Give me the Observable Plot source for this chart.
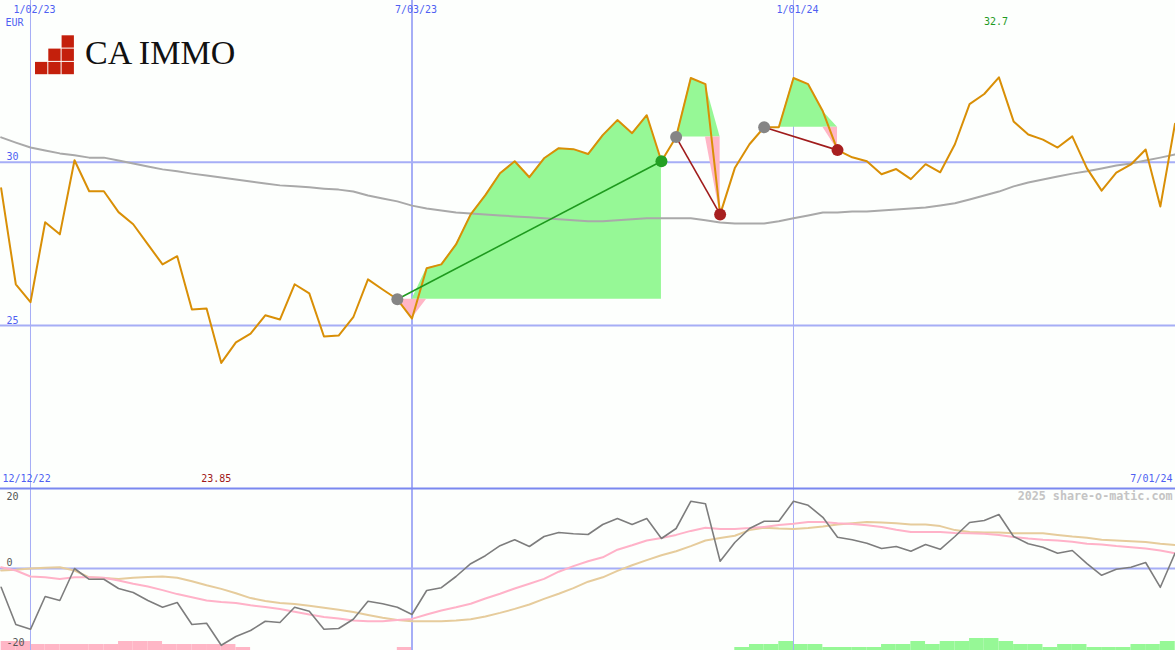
<!DOCTYPE html>
<html><head><meta charset="utf-8">
<script src="https://cdn.jsdelivr.net/npm/d3@7"></script>
<script src="https://cdn.jsdelivr.net/npm/@observablehq/plot@0.6"></script>
<style>
html,body{margin:0;padding:0;background:#fdfffd;}
#wrap{position:relative;width:1175px;height:650px;overflow:hidden;background:#fdfffd;}
#wrap > svg{position:absolute;left:0;}
#wrap > #logoText{position:absolute;left:85px;top:33px;font-family:"Liberation Serif","Times New Roman",serif;font-size:34px;line-height:40px;color:#111;white-space:nowrap;}
</style></head>
<body><div id="wrap"></div>
<script>
// ---------- DATA ----------
const firstWeek = "2022-12-19";           // first weekly close
const lastWeek = "2024-07-01";            // last weekly close
const closes = [29.20,26.26,25.71,28.16,27.79,30.06,29.11,29.11,28.47,28.10,27.48,26.87,27.12,25.49,25.52,23.85,24.48,24.75,25.31,25.18,
  26.26,25.98,24.66,24.69,25.25,26.41,26.10,25.80,25.21,26.75,26.87,27.48,28.40,28.99,29.66,30.03,29.54,30.12,30.43,30.40,
  30.25,30.83,31.29,30.89,31.44,30.03,30.77,32.58,32.39,28.40,29.82,30.55,31.07,31.07,32.58,32.39,31.56,30.37,30.15,30.03,
  29.63,29.79,29.48,29.94,29.69,30.55,31.78,32.09,32.60,31.25,30.85,30.69,30.45,30.79,29.81,29.13,29.68,29.93,30.39,28.64,31.18];
const longAverage = [30.76,30.60,30.45,30.36,30.27,30.21,30.14,30.14,30.05,29.96,29.87,29.78,29.72,29.65,29.59,29.53,29.47,29.41,29.35,29.29,
  29.26,29.23,29.19,29.16,29.10,28.98,28.89,28.80,28.67,28.58,28.52,28.46,28.43,28.40,28.37,28.34,28.31,28.28,28.25,28.22,
  28.19,28.19,28.22,28.25,28.28,28.28,28.28,28.28,28.22,28.15,28.12,28.12,28.12,28.19,28.28,28.37,28.46,28.46,28.49,28.49,
  28.52,28.55,28.58,28.61,28.67,28.74,28.86,28.98,29.10,29.26,29.38,29.47,29.56,29.65,29.72,29.81,29.90,29.96,30.05,30.14,30.24];
const momentum = [-4.7,-14,-15.2,-7,-8,0,-2.7,-2.7,-5,-6,-8,-9.7,-8.5,-14,-13.7,-19.2,-17,-15.5,-13.2,-13.5,
  -9.7,-10.7,-15.2,-15,-12.7,-8.2,-8.8,-9.7,-11.5,-5.5,-4.8,-2,1.2,3.2,5.7,7.2,5.5,8,9,8.7,
  8.5,11,12.5,11,12.5,7.5,10,16.8,16.2,1.8,6.5,10,11.8,11.8,16.8,15.8,12.8,7.8,7.2,6.3,
  5,5.5,4.3,6,4.8,8,11.5,12,13.5,8,6.2,5.3,3.8,4.5,1.2,-1.7,-0.2,0.3,1.5,-4.7,3.8];
const momentumFast = [0.3,-0.5,-2.0,-2.2,-2.6,-2.2,-2.2,-2.3,-3.0,-3.8,-4.5,-5.4,-6.4,-7.2,-8.0,-8.4,-8.6,-9.2,-9.6,-10.1,
  -10.8,-11.5,-12.1,-12.5,-13.0,-13.2,-13.2,-12.9,-12.6,-11.5,-10.5,-9.7,-8.8,-7.5,-6.3,-5.0,-3.8,-2.6,-0.8,0.6,
  1.8,2.8,4.7,5.8,7.0,7.6,8.4,9.4,10.2,9.9,9.9,10.1,10.4,10.9,11.2,11.6,11.6,11.3,11.1,10.8,
  10.4,9.7,9.1,9.1,9.1,8.9,8.8,8.7,8.4,7.9,7.5,7.2,7.0,6.7,6.2,6.0,5.6,5.3,5.0,4.5,3.8];
const momentumSlow = [-0.5,-0.3,0,0.2,0.3,-0.5,-2.2,-2.4,-2.6,-2.3,-2.1,-2.0,-2.3,-3.2,-4.2,-5.1,-6.2,-7.4,-8.1,-8.6,
  -8.9,-9.3,-9.8,-10.3,-10.9,-11.6,-12.3,-12.9,-13.2,-13.2,-13.2,-13.0,-12.7,-12.0,-11.1,-10.1,-9.0,-7.6,-6.3,-4.9,
  -3.3,-2.2,-0.6,0.8,2.1,3.3,4.3,5.6,7.0,7.6,8.2,9.6,10.2,10.0,9.9,10.1,10.5,11.0,11.3,11.6,
  11.5,11.3,11.0,11.0,10.6,9.6,9.1,9.0,9.0,8.8,8.8,8.8,8.4,8.0,7.7,7.2,7.0,6.8,6.6,6.2,5.9];
const trendLevel = [-3,-3,-2,-2,-2,-2,-2,-2,-3,-3,-3,-2,-2,-2,-2,-2,-1,0,0,0,
  0,0,0,0,0,0,0,-1,0,0,0,0,0,0,0,0,0,0,0,0,
  0,0,0,0,0,0,0,0,0,0,1,2,2,3,2,2,1,1,1,1,
  2,2,3,2,3,3,4,4,3,2,2,1,2,2,1,1,1,2,2,3,3];
// trades: entry / exit week index
const tradeEntry = [27, 46, 52];
const tradeExit = [45, 49, 57];
const priceTicks = [25, 30];
const momentumTicks = [20, 0, -20];
const dateTicks = ["2023-01-02", "2023-07-03", "2024-01-01"];
const dateTickLabels = ["1/02/23", "7/03/23", "1/01/24"];
const currencyLabel = "EUR";
const periodLabels = ["12/12/22", "7/01/24"];
const highLabel = "32.7", highWeek = 68;
const lowLabel = "23.85", lowWeek = 15;
const brand = "CA IMMO";
const watermark = "2025 share-o-matic.com";

// ---------- BUILD ----------
const t0 = new Date(firstWeek + "T00:00:00Z");
const rows = closes.map((c, i) => ({
  date: d3.utcDay.offset(t0, 7 * i), next: d3.utcDay.offset(t0, 7 * (i + 1)),
  close: c, avg: longAverage[i], mom: momentum[i], fast: momentumFast[i], slow: momentumSlow[i], level: trendLevel[i]
}));
const ticks = dateTicks.map((d, i) => ({date: new Date(d + "T00:00:00Z"), label: dateTickLabels[i]}));
const trades = tradeEntry.map((e, k) => {
  const x = tradeExit[k];
  return {a: rows[e], b: rows[x], base: rows[e].close, win: rows[x].close > rows[e].close, seg: rows.slice(e, x + 1)};
});

const W = 1175, TOPH = 487, BOTH = 163;
const xScale = {type: "utc", domain: [t0, new Date(lastWeek + "T00:00:00Z")], range: [0.65, 1174.5]};
const BLUE = "#4f5ff2", GRID = "#a6aef6", FONT = "DejaVu Sans Mono, monospace";
const common = {width: W, marginLeft: 0, marginRight: 0, marginTop: 0, marginBottom: 0,
  style: {fontFamily: FONT, fontSize: "10px", background: "transparent"}};
const T = {lineAnchor: "middle"};

const fills = trades.flatMap(t => [
  Plot.areaY(t.seg, {x: "date", y1: () => t.base, y2: d => Math.max(d.close, t.base), fill: "#96f896", curve: "linear"}),
  Plot.areaY(t.seg, {x: "date", y1: () => t.base, y2: d => Math.min(d.close, t.base), fill: "#ffb6c6", curve: "linear"})
]);

const priceChart = Plot.plot({
  ...common, height: TOPH,
  x: {...xScale, axis: null},
  y: {domain: [25, 30], range: [324.9, 161.7], axis: null},
  marks: [
    Plot.ruleX(ticks.filter((d, i) => i !== 1), {x: "date", stroke: GRID, strokeWidth: 1}),
    Plot.ruleX(ticks.filter((d, i) => i === 1), {x: "date", stroke: GRID, strokeWidth: 2}),
    Plot.ruleY(priceTicks, {stroke: GRID, strokeWidth: 2}),
    ...fills,
    Plot.line(rows, {x: "date", y: "avg", stroke: "#a9a9a9", strokeWidth: 2}),
    Plot.line(rows, {x: "date", y: "close", stroke: "#d98f06", strokeWidth: 2}),
    Plot.link(trades, {x1: d => d.a.date, y1: d => d.a.close, x2: d => d.b.date, y2: d => d.b.close,
      stroke: d => d.win ? "#1e9a1e" : "#a01c1c", strokeWidth: 1.6}),
    Plot.dot(trades, {x: d => d.a.date, y: d => d.a.close, r: 6, fill: "#858585"}),
    Plot.dot(trades, {x: d => d.b.date, y: d => d.b.close, r: 6, fill: d => d.win ? "#23a023" : "#a82020"}),
    Plot.text(priceTicks, {...T, y: d => d, text: d => String(d), frameAnchor: "left", dx: 6, dy: -5, textAnchor: "start", fill: BLUE}),
    Plot.text([currencyLabel], {...T, text: d => d, frameAnchor: "top-left", dx: 5, dy: 22, textAnchor: "start", fill: BLUE}),
    Plot.text(ticks, {...T, x: "date", text: "label", frameAnchor: "top", dy: 9, dx: 4, fill: BLUE}),
    Plot.text([rows[highWeek]], {...T, x: "date", text: () => highLabel, frameAnchor: "top", dy: 21, dx: -3, fill: "#1f9a1f"}),
    Plot.text([rows[lowWeek]], {...T, x: "date", text: () => lowLabel, frameAnchor: "bottom", dy: -9, dx: -5, fill: "#a01818"}),
    Plot.text([periodLabels[0]], {...T, text: d => d, frameAnchor: "bottom-left", dx: 2, dy: -9, textAnchor: "start", fill: BLUE}),
    Plot.text([periodLabels[1]], {...T, text: d => d, frameAnchor: "bottom-right", dx: -3, dy: -9, textAnchor: "end", fill: BLUE})
  ]
});

const barChart = Plot.plot({
  ...common, height: BOTH,
  x: {...xScale, axis: null},
  y: {domain: [0, 4], range: [BOTH, BOTH - 12], axis: null},
  marks: [
    Plot.rectY(rows.filter(d => d.level !== 0), {x1: "date", x2: "next", y1: 0, y2: d => Math.abs(d.level),
      fill: d => d.level < 0 ? "#ffb6c6" : "#96f896"})
  ]
});

const momentumChart = Plot.plot({
  ...common, height: BOTH,
  x: {...xScale, axis: null},
  y: {domain: [-20, 20], range: [161, 1], axis: null},
  marks: [
    Plot.ruleX(ticks.filter((d, i) => i !== 1), {x: "date", stroke: GRID, strokeWidth: 1}),
    Plot.ruleX(ticks.filter((d, i) => i === 1), {x: "date", stroke: GRID, strokeWidth: 2}),
    Plot.ruleY([0], {stroke: GRID, strokeWidth: 2}),
    Plot.ruleY([20], {stroke: "#7a88f0", strokeWidth: 2}),
    Plot.line(rows, {x: "date", y: "slow", stroke: "#e6cc9c", strokeWidth: 2}),
    Plot.line(rows, {x: "date", y: "fast", stroke: "#ffb2c8", strokeWidth: 2}),
    Plot.line(rows, {x: "date", y: "mom", stroke: "#7d7d7d", strokeWidth: 1.6}),
    Plot.text(momentumTicks.filter(d => d === 20), {...T, y: d => d, text: d => String(d), frameAnchor: "left", dx: 6, dy: 8, textAnchor: "start", fill: "#555"}),
    Plot.text(momentumTicks.filter(d => d !== 20), {...T, y: d => d, text: d => String(d), frameAnchor: "left", dx: 6, dy: -6, textAnchor: "start", fill: "#555"}),
    Plot.text([watermark], {...T, text: d => d, frameAnchor: "top-right", dx: -3, dy: 9, textAnchor: "end", fill: "#c4c4c4", fontWeight: "bold", fontSize: 11.7})
  ]
});

const wrap = document.getElementById("wrap");
priceChart.style.top = "0px";
barChart.style.top = TOPH + "px";
momentumChart.style.top = TOPH + "px";
wrap.append(priceChart, barChart, momentumChart);

// logo (decoration)
const ns = "http://www.w3.org/2000/svg";
const logo = document.createElementNS(ns, "svg");
logo.setAttribute("width", 80); logo.setAttribute("height", 80);
logo.style.top = "0px";
[[0,2],[1,2],[2,2],[1,1],[2,1],[2,0]].forEach(([c, r]) => {
  const rc = document.createElementNS(ns, "rect");
  rc.setAttribute("x", 35 + c * 13.3); rc.setAttribute("y", 35.3 + r * 13.3);
  rc.setAttribute("width", 12.3); rc.setAttribute("height", 12.3); rc.setAttribute("fill", "#c4200c");
  logo.appendChild(rc);
});
wrap.appendChild(logo);
const lt = document.createElement("div");
lt.id = "logoText"; lt.textContent = brand;
wrap.appendChild(lt);
</script>
</body></html>
